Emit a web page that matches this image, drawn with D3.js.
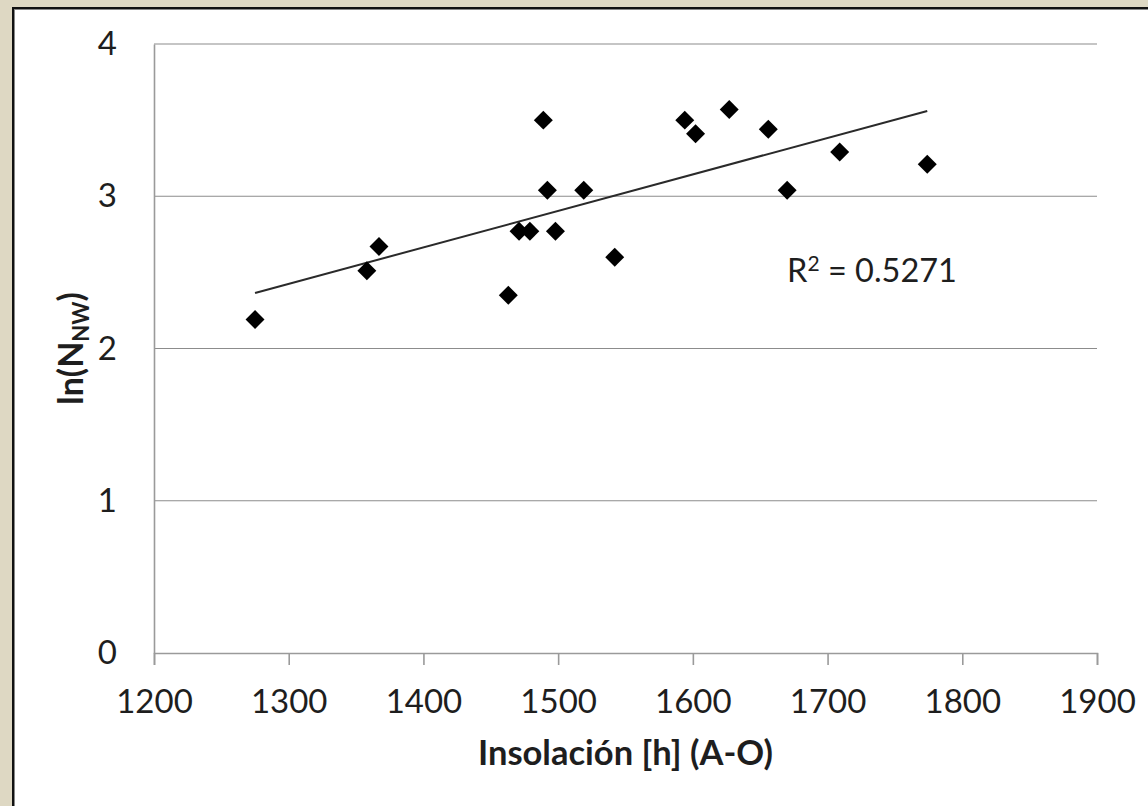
<!DOCTYPE html>
<html>
<head>
<meta charset="utf-8">
<script src="https://cdn.jsdelivr.net/npm/d3@7"></script>
<style>
  html, body { margin: 0; padding: 0; background: #ded8c3; }
  svg { display: block; }
  text { font-family: Lato, "Open Sans", sans-serif; fill: #1e1e1e; }
</style>
</head>
<body>
<div id="chart"></div>
<script>
// Insolation hours (A-O) against ln(N_NW)
const insolacion = [1275, 1358, 1367, 1463, 1471, 1479, 1489, 1492, 1498, 1519,
                    1542, 1594, 1602, 1627, 1656, 1670, 1709, 1774];
const lnN = [2.19, 2.51, 2.67, 2.35, 2.77, 2.77, 3.50, 3.04, 2.77, 3.04,
             2.60, 3.50, 3.41, 3.57, 3.44, 3.04, 3.29, 3.21];
const xTicks = [1200, 1300, 1400, 1500, 1600, 1700, 1800, 1900];
const yTicks = [0, 1, 2, 3, 4];
const r2Label = "0.5271";

const width = 1148, height = 806;
const margin = { top: 44, right: 51, bottom: 153, left: 154 };

const svg = d3.select("#chart").append("svg")
  .attr("width", width)
  .attr("height", height);

// frame around the picture
svg.append("rect").attr("x", 15).attr("y", 10)
  .attr("width", width - 15).attr("height", height - 10).attr("fill", "#ffffff");
svg.append("line").attr("x1", 13).attr("x2", 13).attr("y1", 7).attr("y2", height)
  .attr("stroke", "#111").attr("stroke-width", 2);
svg.append("line").attr("x1", 12).attr("x2", width).attr("y1", 8).attr("y2", 8)
  .attr("stroke", "#111").attr("stroke-width", 2);
svg.append("line").attr("x1", 14.5).attr("x2", 14.5).attr("y1", 9).attr("y2", height)
  .attr("stroke", "#888").attr("stroke-width", 1);
svg.append("line").attr("x1", 14).attr("x2", width).attr("y1", 9.5).attr("y2", 9.5)
  .attr("stroke", "#888").attr("stroke-width", 1);

const x = d3.scaleLinear().domain([1200, 1900])
  .range([margin.left, width - margin.right]);
const y = d3.scaleLinear().domain([0, 4])
  .range([height - margin.bottom, margin.top]);

// horizontal gridlines
svg.append("g")
  .selectAll("line")
  .data(yTicks.filter(d => d > 0))
  .join("line")
  .attr("x1", x(1200)).attr("x2", x(1900))
  .attr("y1", d => y(d)).attr("y2", d => y(d))
  .attr("stroke", "#8c8c8c").attr("stroke-width", 1.2);

// x axis
const xAxis = svg.append("g")
  .attr("transform", `translate(0,${y(0)})`)
  .call(d3.axisBottom(x).tickValues(xTicks).tickSize(12).tickPadding(25).tickFormat(d3.format("d")));
xAxis.select(".domain").attr("stroke", "#9a9a9a").attr("stroke-width", 1.6);
xAxis.selectAll(".tick line").attr("stroke", "#9a9a9a").attr("stroke-width", 1.6);
xAxis.selectAll("text").attr("font-size", 33).attr("fill", "#1e1e1e")
  .style("font-family", "Lato, 'Open Sans', sans-serif");

// y axis
const yAxis = svg.append("g")
  .attr("transform", `translate(${x(1200)},0)`)
  .call(d3.axisLeft(y).tickValues(yTicks).tickSize(0).tickPadding(37).tickFormat(d3.format("d")));
yAxis.select(".domain").attr("stroke", "#9a9a9a").attr("stroke-width", 1.6);
yAxis.selectAll("text").attr("font-size", 33).attr("fill", "#1e1e1e")
  .style("font-family", "Lato, 'Open Sans', sans-serif");

// linear trendline from the data
const n = insolacion.length;
const mx = d3.mean(insolacion), my = d3.mean(lnN);
let sxy = 0, sxx = 0;
for (let i = 0; i < n; i++) {
  sxy += (insolacion[i] - mx) * (lnN[i] - my);
  sxx += (insolacion[i] - mx) ** 2;
}
const slope = sxy / sxx;
const intercept = my - slope * mx;
const [xmin, xmax] = d3.extent(insolacion);

svg.append("line")
  .attr("x1", x(xmin)).attr("y1", y(intercept + slope * xmin))
  .attr("x2", x(xmax)).attr("y2", y(intercept + slope * xmax))
  .attr("stroke", "#2a2a2a").attr("stroke-width", 2);

// diamond markers
const diamond = d3.symbol().type(d3.symbolSquare).size(180);
svg.append("g")
  .selectAll("path")
  .data(insolacion.map((v, i) => [v, lnN[i]]))
  .join("path")
  .attr("d", diamond)
  .attr("transform", d => `translate(${x(d[0])},${y(d[1])}) rotate(45)`)
  .attr("fill", "#000");

// R² label
const r2 = svg.append("text")
  .attr("x", 787).attr("y", 282)
  .attr("font-size", 32.5);
r2.append("tspan").text("R");
r2.append("tspan").text("2").attr("font-size", 21).attr("dy", -11);
r2.append("tspan").text(" = " + r2Label).attr("dy", 11);

// axis titles
svg.append("text")
  .attr("x", (x(1200) + x(1900)) / 2).attr("y", 765)
  .attr("text-anchor", "middle")
  .attr("font-size", 34.5).attr("font-weight", "bold")
  .text("Insolación [h] (A-O)");

const yt = svg.append("text")
  .attr("transform", `translate(83,${(y(0) + y(4)) / 2}) rotate(-90)`)
  .attr("text-anchor", "middle")
  .attr("font-size", 34).attr("font-weight", "bold");
yt.append("tspan").text("ln(N");
yt.append("tspan").text("NW").attr("font-size", 22).attr("dy", 6);
yt.append("tspan").text(")").attr("dy", -6);
</script>
</body>
</html>
